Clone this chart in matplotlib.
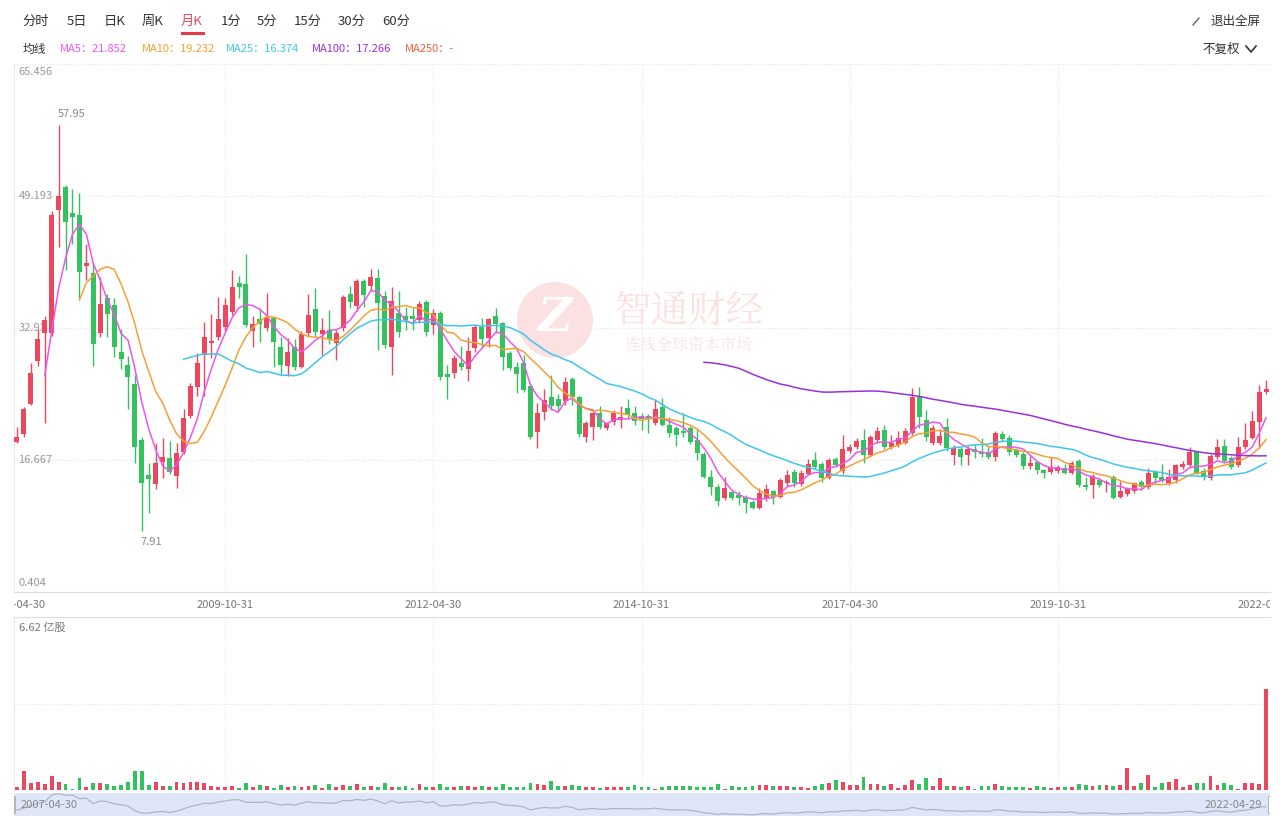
import matplotlib
matplotlib.use('Agg')
import matplotlib.pyplot as plt
from matplotlib.patches import Ellipse, Rectangle
from matplotlib.lines import Line2D
import numpy as np
import pandas as pd

plt.rcParams['font.family'] = ['Noto Sans CJK SC', 'DejaVu Sans']

# monthly K-line, 2007-04 .. 2022-04
opens = [18.9, 19.9, 23.6, 28.9, 32.3, 32.3, 47.5, 50.3, 47.1, 46.8,
         40.6, 39.7, 32.3, 36.6, 35.8, 30.0, 28.4, 26.0, 19.1, 14.8,
         13.7, 16.4, 16.9, 14.7, 17.6, 22.1, 25.7, 29.6, 31.1, 31.8,
         33.0, 34.9, 38.5, 38.3, 32.6, 34.0, 32.9, 34.2, 30.6, 28.2,
         30.6, 28.1, 32.3, 35.3, 32.2, 32.7, 31.1, 32.9, 37.1, 35.6,
         38.7, 38.1, 39.1, 36.9, 30.6, 34.8, 34.4, 34.4, 33.9, 36.1,
         33.3, 34.8, 27.3, 27.4, 28.6, 27.9, 30.5, 33.0, 31.7, 34.4,
         33.5, 29.9, 28.1, 28.6, 25.8, 20.1, 22.6, 24.4, 24.2, 23.9,
         26.6, 24.4, 19.5, 20.7, 22.5, 20.6, 21.3, 21.6, 23.1, 22.5,
         22.1, 22.1, 21.2, 23.2, 21.0, 20.6, 20.2, 20.6, 19.1, 17.4,
         14.6, 13.3, 12.0, 12.7, 12.4, 12.1, 11.5, 10.8, 12.0, 12.8,
         12.1, 13.8, 15.2, 13.7, 15.0, 16.7, 16.2, 14.5, 16.8, 15.3,
         17.8, 18.3, 19.1, 17.3, 19.1, 20.4, 18.3, 18.5, 18.8, 20.0,
         24.5, 21.6, 18.8, 18.8, 20.7, 17.3, 18.0, 17.3, 18.0, 17.6,
         17.6, 17.0, 19.9, 19.4, 17.9, 17.4, 15.9, 16.4, 15.4, 15.2,
         15.3, 15.7, 15.1, 16.5, 13.6, 13.6, 14.2, 13.8, 14.6, 12.1,
         12.5, 12.8, 14.0, 13.3, 15.2, 14.6, 13.8, 14.2, 15.8, 16.0,
         17.6, 15.3, 14.4, 17.0, 18.4, 16.9, 16.0, 18.3, 19.4, 21.3,
         25.0]
highs = [20.7, 23.2, 28.6, 32.8, 34.4, 47.3, 57.95, 50.5, 50.0, 49.6,
         43.3, 41.0, 39.2, 37.1, 36.6, 32.8, 29.5, 27.1, 19.5, 16.3,
         18.8, 19.4, 19.0, 18.8, 23.0, 26.2, 29.9, 33.7, 34.7, 36.7,
         36.6, 40.1, 39.3, 42.0, 34.4, 35.4, 37.2, 34.3, 31.8, 31.7,
         31.6, 32.5, 37.1, 37.9, 34.2, 35.1, 32.7, 37.0, 38.1, 39.0,
         39.0, 40.2, 40.2, 37.5, 38.0, 37.5, 35.5, 35.4, 36.3, 36.4,
         35.3, 35.0, 28.4, 29.6, 30.7, 31.8, 33.4, 34.2, 34.2, 35.4,
         33.7, 30.1, 28.7, 29.6, 26.2, 23.7, 25.4, 27.1, 24.8, 26.9,
         26.9, 24.6, 21.5, 22.6, 23.3, 21.4, 22.8, 23.3, 24.2, 23.3,
         22.4, 22.3, 24.1, 24.3, 22.0, 20.8, 22.5, 20.9, 20.6, 17.6,
         15.4, 13.7, 14.6, 12.9, 12.8, 12.3, 11.7, 13.2, 13.7, 13.0,
         14.4, 15.4, 15.5, 15.4, 16.8, 17.6, 16.4, 16.9, 17.0, 19.7,
         18.6, 19.4, 20.5, 19.7, 20.7, 21.0, 19.7, 20.2, 20.6, 25.5,
         25.6, 22.8, 21.0, 20.5, 21.8, 18.5, 18.3, 18.4, 18.6, 19.4,
         18.4, 20.2, 20.2, 19.8, 18.1, 17.6, 17.2, 16.6, 15.6, 17.0,
         16.0, 16.2, 16.5, 16.8, 14.6, 14.9, 14.5, 14.2, 14.8, 14.1,
         13.3, 14.0, 14.2, 15.7, 15.4, 16.2, 15.6, 16.2, 16.6, 18.3,
         17.8, 15.7, 17.4, 19.3, 19.3, 17.2, 19.5, 21.2, 22.7, 25.9,
         26.5]
lows = [18.8, 19.5, 23.4, 28.2, 21.2, 32.0, 42.9, 40.1, 43.3, 36.6,
        38.8, 28.2, 31.8, 31.8, 29.4, 27.9, 23.0, 16.3, 7.91, 10.1,
        13.1, 14.4, 15.0, 13.2, 17.4, 21.9, 24.6, 24.6, 29.2, 31.5,
        32.5, 34.5, 36.6, 33.0, 30.6, 31.2, 32.5, 28.1, 27.3, 27.0,
        27.7, 28.0, 32.0, 32.0, 29.6, 31.0, 29.0, 32.5, 35.4, 35.0,
        35.5, 37.5, 30.2, 30.5, 27.1, 31.8, 32.7, 32.7, 33.6, 32.0,
        32.2, 26.5, 24.2, 26.8, 27.7, 26.4, 30.0, 30.6, 30.6, 32.3,
        27.8, 27.8, 24.9, 25.0, 19.3, 18.1, 21.6, 22.8, 22.7, 23.5,
        23.5, 19.5, 18.9, 19.1, 20.5, 20.4, 21.0, 20.6, 21.8, 21.0,
        20.4, 20.0, 21.0, 20.8, 19.5, 18.4, 19.5, 18.6, 16.7, 14.4,
        12.4, 11.0, 11.8, 11.8, 11.1, 10.1, 10.6, 10.6, 11.6, 11.2,
        12.0, 13.5, 13.4, 13.5, 14.8, 15.5, 14.0, 14.3, 15.8, 15.0,
        17.5, 18.0, 16.3, 17.0, 18.8, 18.0, 18.0, 18.3, 18.6, 19.8,
        20.6, 19.0, 18.5, 18.5, 17.8, 16.0, 16.0, 16.0, 16.9, 17.0,
        16.8, 16.5, 19.0, 17.3, 17.0, 15.6, 15.6, 15.0, 14.4, 15.0,
        15.1, 14.9, 14.9, 13.4, 13.0, 12.0, 13.3, 12.7, 11.9, 12.0,
        12.2, 12.6, 13.0, 13.1, 13.7, 14.0, 13.6, 13.8, 15.6, 15.8,
        14.9, 14.2, 14.2, 16.8, 16.3, 15.5, 15.8, 18.0, 19.2, 18.1,
        24.8]
closes = [19.5, 22.9, 27.4, 31.6, 33.9, 46.8, 49.2, 46.0, 46.6, 39.8,
          40.9, 31.0, 35.9, 34.7, 30.6, 29.1, 26.9, 18.3, 13.8, 14.3,
          16.3, 17.0, 15.2, 17.5, 21.8, 25.8, 28.6, 31.8, 31.3, 34.0,
          35.8, 38.0, 38.0, 33.3, 33.4, 33.4, 34.3, 31.2, 28.4, 30.0,
          28.1, 32.2, 34.5, 32.4, 32.7, 31.6, 32.3, 36.7, 36.1, 38.7,
          37.0, 39.2, 36.0, 30.8, 36.3, 32.4, 33.9, 34.0, 35.9, 32.4,
          34.8, 26.9, 26.9, 29.2, 28.1, 30.1, 33.0, 31.6, 34.0, 33.4,
          29.4, 28.0, 27.3, 25.3, 19.5, 22.5, 24.1, 23.3, 23.3, 26.3,
          24.4, 19.9, 21.2, 22.5, 20.7, 21.2, 22.5, 22.0, 22.2, 21.5,
          21.7, 21.7, 22.9, 21.0, 20.0, 19.7, 20.0, 18.9, 17.5, 14.6,
          13.3, 11.6, 13.2, 12.0, 12.0, 11.4, 10.8, 12.6, 13.1, 12.1,
          14.2, 14.8, 13.8, 15.1, 16.2, 15.8, 14.5, 16.7, 16.1, 18.0,
          18.3, 19.0, 17.3, 19.5, 20.2, 18.3, 18.8, 19.4, 20.2, 24.4,
          22.0, 19.5, 20.6, 19.6, 18.1, 18.1, 17.0, 18.0, 17.7, 17.4,
          17.0, 20.0, 19.3, 17.6, 17.3, 15.9, 16.3, 15.4, 15.1, 15.8,
          15.8, 15.1, 16.3, 13.6, 13.3, 14.7, 13.6, 14.0, 12.0, 12.8,
          13.1, 13.8, 13.3, 15.1, 14.4, 14.2, 14.6, 16.0, 16.2, 17.6,
          15.1, 14.6, 17.2, 18.3, 16.5, 15.8, 18.3, 19.1, 21.5, 25.0,
          25.4]
volumes = [0.13, 0.74, 0.26, 0.32, 0.22, 0.52, 0.30, 0.22, 0.04, 0.45,
           0.13, 0.26, 0.26, 0.22, 0.17, 0.19, 0.32, 0.74, 0.72, 0.18,
           0.30, 0.17, 0.14, 0.30, 0.26, 0.30, 0.30, 0.28, 0.17, 0.12,
           0.10, 0.14, 0.08, 0.28, 0.10, 0.20, 0.17, 0.09, 0.20, 0.12,
           0.14, 0.12, 0.14, 0.20, 0.06, 0.22, 0.13, 0.20, 0.15, 0.22,
           0.10, 0.16, 0.13, 0.26, 0.12, 0.11, 0.16, 0.08, 0.22, 0.12,
           0.13, 0.22, 0.10, 0.11, 0.16, 0.16, 0.11, 0.16, 0.11, 0.10,
           0.22, 0.10, 0.11, 0.10, 0.28, 0.22, 0.20, 0.35, 0.16, 0.14,
           0.20, 0.17, 0.10, 0.12, 0.08, 0.10, 0.12, 0.10, 0.12, 0.18,
           0.12, 0.10, 0.03, 0.10, 0.14, 0.17, 0.17, 0.14, 0.12, 0.12,
           0.13, 0.22, 0.04, 0.17, 0.12, 0.10, 0.14, 0.20, 0.18, 0.14,
           0.16, 0.14, 0.13, 0.12, 0.08, 0.16, 0.22, 0.26, 0.38, 0.30,
           0.20, 0.20, 0.48, 0.24, 0.22, 0.16, 0.22, 0.08, 0.18, 0.38,
           0.24, 0.45, 0.14, 0.45, 0.17, 0.14, 0.12, 0.16, 0.04, 0.16,
           0.14, 0.22, 0.17, 0.12, 0.10, 0.12, 0.06, 0.14, 0.12, 0.08,
           0.12, 0.10, 0.10, 0.24, 0.18, 0.14, 0.20, 0.20, 0.14, 0.18,
           0.84, 0.16, 0.26, 0.58, 0.10, 0.28, 0.30, 0.42, 0.12, 0.18,
           0.26, 0.28, 0.52, 0.18, 0.26, 0.20, 0.04, 0.26, 0.26, 0.24,
           3.87]

tick_idx = [0, 30, 60, 90, 120, 150, 180]
tick_labels = ['2007-04-30', '2009-10-31', '2012-04-30', '2014-10-31',
               '2017-04-30', '2019-10-31', '2022-04-29']
y_ticks = [0.404, 16.667, 32.93, 49.193, 65.456]
y_tick_labels = ['0.404', '16.667', '32.93', '49.193', '65.456']
vol_max = 6.62
tabs = ['分时', '5日', '日K', '周K', '月K', '1分', '5分', '15分', '30分', '60分']
ma_windows = [5, 10, 25, 100]
ma_labels = ['MA5：21.852', 'MA10：19.232', 'MA25：16.374', 'MA100：17.266', 'MA250：-']

RED = '#eb4860'
GREEN = '#34c25e'
MA_COLORS = ['#ee55ee', '#f5a033', '#3fc6ec', '#9a2fe0', '#f0603f']
GRID = '#e4e4e4'
TXT = '#999999'
WM = '#fbe1e1'

W, H = 1280, 819
fig = plt.figure(figsize=(12.8, 8.19), dpi=100)


def rect(l, t, r, b):
    return [l / W, 1 - b / H, (r - l) / W, (b - t) / H]


L, R = 13.5, 1269.5
opens, highs, lows, closes = map(np.array, (opens, highs, lows, closes))
idx = np.arange(len(closes))
up = closes >= opens
cols = np.where(up, RED, GREEN)
xlim = (-0.5, len(closes) - 0.5)

# ---- price panel
ax = fig.add_axes(rect(L, 64, R, 592))
ax.set_facecolor('none')
ax.set_xlim(*xlim)
ax.set_ylim(y_ticks[0], y_ticks[-1])
for s in ['top', 'right']:
    ax.spines[s].set_visible(False)
ax.spines['left'].set_color(GRID)
ax.spines['left'].set_linestyle(':')
ax.spines['bottom'].set_color('#dddddd')
ax.set_xticks([])
ax.set_yticks([])
for v in y_ticks:
    ax.axhline(v, color=GRID, lw=0.8, ls=':', zorder=0)
for t in tick_idx[1:-1]:
    ax.axvline(t, color=GRID, lw=0.8, ls=':', zorder=0)

ytr = ax.get_yaxis_transform()
for k, (v, lab) in enumerate(zip(y_ticks, y_tick_labels)):
    va = 'bottom' if k == 0 else ('top' if k == len(y_ticks) - 1 else 'center')
    off = 4 if k == 0 else (-3 if k == len(y_ticks) - 1 else 0)
    ax.annotate(lab, xy=(0.004, v), xycoords=ytr, xytext=(0, off),
                textcoords='offset pixels', ha='left', va=va,
                fontsize=8, color=TXT, zorder=1)

# watermark
ax.add_patch(Ellipse((555 / W, 1 - 320 / H), 76 / W, 76 / H, transform=fig.transFigure,
                     color=WM, zorder=0.5, lw=0))
ax.text(555 / W, 1 - 318 / H, 'Z', transform=fig.transFigure, ha='center', va='center',
        fontsize=34, color='white', fontweight='bold', fontstyle='italic', zorder=0.6,
        family='DejaVu Serif')
ax.text(688 / W, 1 - 312 / H, '智通财经', transform=fig.transFigure, ha='center', va='center',
        fontsize=27, color=WM, zorder=0.5, family='Noto Serif CJK SC')
ax.text(688 / W, 1 - 345 / H, '连线全球资本市场', transform=fig.transFigure, ha='center',
        va='center', fontsize=11.5, color=WM, zorder=0.5, family='Noto Serif CJK SC')

# candles
ax.vlines(idx, lows, highs, colors=cols, lw=1, zorder=3)
body_lo = np.minimum(opens, closes)
body_h = np.maximum(np.abs(closes - opens), 0.13)
ax.bar(idx, body_h, bottom=body_lo, width=0.72, color=cols, lw=0, zorder=4)

# moving averages
cs = pd.Series(closes)
for n, c in zip(ma_windows, MA_COLORS):
    ax.plot(idx, cs.rolling(n).mean(), color=c, lw=1.1, zorder=5)

# max / min marks
imax, imin = int(np.argmax(highs)), int(np.argmin(lows))
ax.annotate(f'{highs[imax]:.2f}', xy=(imax, highs[imax]), xytext=(-1, 6),
            textcoords='offset pixels', ha='left', va='bottom', fontsize=8, color='#888888')
ax.annotate(f'{lows[imin]:.2f}', xy=(imin, lows[imin]), xytext=(-1, -6),
            textcoords='offset pixels', ha='left', va='top', fontsize=8, color='#888888')

# ---- x labels strip (clipped at chart edges like the original)
axl = fig.add_axes(rect(L, 592, R, 617))
axl.set_xlim(*xlim)
axl.set_ylim(0, 1)
axl.axis('off')
for t, lab in zip(tick_idx, tick_labels):
    axl.text(t, 0.5, lab, ha='center', va='center', fontsize=8, color='#777777', clip_on=True)

# ---- volume panel
axv = fig.add_axes(rect(L, 617, R, 790))
axv.set_facecolor('none')
axv.set_xlim(*xlim)
axv.set_ylim(0, vol_max)
for s in ['right', 'bottom']:
    axv.spines[s].set_visible(False)
axv.spines['top'].set_color('#dddddd')
axv.spines['left'].set_color(GRID)
axv.spines['left'].set_linestyle(':')
axv.set_xticks([])
axv.set_yticks([])
axv.axhline(vol_max / 2, color=GRID, lw=0.8, ls=':', zorder=0)
for t in tick_idx[1:-1]:
    axv.axvline(t, color=GRID, lw=0.8, ls=':', zorder=0)
axv.bar(idx, volumes, width=0.55, color=cols, lw=0, zorder=3)
axv.text(0.004, 0.94, f'{vol_max} 亿股', transform=axv.transAxes, ha='left', va='center',
         fontsize=8, color='#777777')

# ---- navigator
axn = fig.add_axes(rect(L, 793, R, 816))
axn.set_facecolor('#dfe6f8')
axn.set_xlim(*xlim)
axn.set_ylim(closes.min() - 2, closes.max() + 1)
for s in axn.spines.values():
    s.set_visible(False)
axn.set_xticks([])
axn.set_yticks([])
axn.plot(idx, closes, color='#aeb6c6', lw=0.9)
axn.text(0.006, 0.5, tick_labels[0], transform=axn.transAxes, ha='left', va='center',
         fontsize=8, color='#888888')
axn.text(0.994, 0.5, tick_labels[-1], transform=axn.transAxes, ha='right', va='center',
         fontsize=8, color='#888888')
for xh in (0.0, 0.9985):
    axn.add_patch(Rectangle((xh, 0.15), 0.0015, 0.7, transform=axn.transAxes,
                            facecolor='white', edgecolor='#aaaaaa', lw=0.6))

# ---- top toolbar
tab_x = [36, 77, 115, 153, 192, 231, 267, 308, 352, 396]
for x, t in zip(tab_x, tabs):
    fig.text(x / W, 1 - 21 / H, t, ha='center', va='center', fontsize=9.5,
             color=RED if t == '月K' else '#333333')
fig.add_artist(Line2D([182 / W, 203 / W], [1 - 33 / H] * 2, color='#e23a48', lw=2.2))

fig.text(34 / W, 1 - 49 / H, '均线', ha='center', va='center', fontsize=8.5, color='#333333')
ma_x = [60, 142, 226, 312, 405]
for x, lab, c in zip(ma_x, ma_labels, MA_COLORS):
    fig.text(x / W, 1 - 49 / H, lab, ha='left', va='center', fontsize=8, color=c)

fig.text(1260 / W, 1 - 21 / H, '退出全屏', ha='right', va='center', fontsize=9, color='#333333')
fig.add_artist(Line2D([1193 / W, 1199 / W], [1 - 25 / H, 1 - 18 / H], color='#555555', lw=0.9))
fig.text(1240 / W, 1 - 49 / H, '不复权', ha='right', va='center', fontsize=9, color='#333333')
fig.add_artist(Line2D([1246 / W, 1251 / W, 1256 / W], [1 - 46 / H, 1 - 52 / H, 1 - 46 / H],
                      color='#333333', lw=1.2))

fig.savefig('out.png', dpi=100)
